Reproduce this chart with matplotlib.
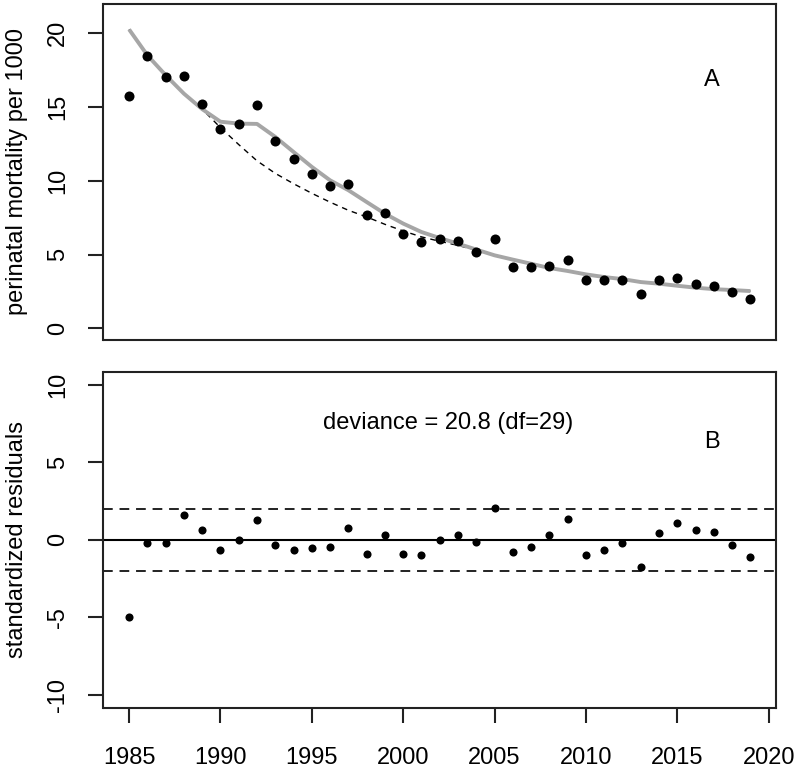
import matplotlib
matplotlib.use("Agg")
import matplotlib.pyplot as plt
import numpy as np

plt.rcParams['font.family'] = ['Liberation Sans', 'DejaVu Sans']

years = list(range(1985, 2020))

# observed perinatal mortality per 1000
observed = [15.75, 18.45, 17.0, 17.1, 15.2, 13.5, 13.85, 15.1, 12.7, 11.45,
            10.45, 9.65, 9.8, 7.65, 7.85, 6.4, 5.85, 6.05, 5.9, 5.15,
            6.05, 4.15, 4.15, 4.25, 4.6, 3.25, 3.25, 3.25, 2.35, 3.25,
            3.4, 3.0, 2.9, 2.45, 2.0]

# fitted model (gray solid)
fitted = [20.25, 18.5, 17.15, 15.9, 14.85, 14.0, 13.87, 13.85, 12.97, 11.95,
          10.94, 10.03, 9.36, 8.56, 7.77, 7.1, 6.53, 6.12, 5.74, 5.34,
          4.95, 4.66, 4.38, 4.09, 3.89, 3.66, 3.48, 3.34, 3.14, 3.03,
          2.89, 2.76, 2.66, 2.6, 2.53]

# baseline trend without excess (black dashed)
trend = [20.25, 18.5, 17.15, 15.9, 14.85, 13.6, 12.45, 11.35, 10.5, 9.8,
         9.15, 8.55, 8.0, 7.55, 7.05, 6.6, 6.2, 5.9, 5.62, 5.3,
         4.95, 4.66, 4.38, 4.09, 3.89, 3.66, 3.48, 3.34, 3.14, 3.03,
         2.89, 2.76, 2.66, 2.6, 2.53]

# standardized residuals
residuals = [-4.95, -0.24, -0.24, 1.62, 0.63, -0.67, 0.0, 1.28, -0.35, -0.67,
             -0.56, -0.45, 0.74, -0.89, 0.3, -0.89, -0.97, 0.0, 0.32, -0.13,
             2.03, -0.78, -0.45, 0.32, 1.36, -1.0, -0.67, -0.24, -1.78, 0.41,
             1.06, 0.63, 0.52, -0.35, -1.1]

xticks = [1985, 1990, 1995, 2000, 2005, 2010, 2015, 2020]
yticks_top = [0, 5, 10, 15, 20]
yticks_bot = [-10, -5, 0, 5, 10]

W, H = 800, 772
fig = plt.figure(figsize=(W / 100, H / 100), dpi=100)

def frac(l, t, r, b):
    return [l / W, 1 - b / H, (r - l) / W, (b - t) / H]

ax1 = fig.add_axes(frac(103.5, 4, 776, 339.5))
ax2 = fig.add_axes(frac(103.5, 371.5, 776, 708))

FS = 17
for ax in (ax1, ax2):
    ax.set_xlim(1983.6, 2020.4)
    for s in ax.spines.values():
        s.set_linewidth(1.5)
        s.set_color('#222222')
    ax.tick_params(length=11, width=1.5, labelsize=FS, color='#222222', pad=14)
    ax.set_xticks(xticks)

ax1.set_ylim(-0.75, 21.97)
ax1.set_yticks(yticks_top)
ax1.set_yticklabels([str(v) for v in yticks_top], rotation=90, va='center')
ax1.tick_params(axis='x', bottom=False, labelbottom=False)

ax1.plot(years, trend, color='black', lw=1.0, ls=(0, (4, 3.5)), zorder=2)
ax1.plot(years, fitted, color='#a6a6a6', lw=2.8, zorder=3, solid_capstyle='butt')
ax1.scatter(years, observed, s=52, color='black', zorder=4, linewidths=0)
ax1.text(2016.9, 16.8, 'A', fontsize=FS, ha='center', va='center')
ax1.set_ylabel('perinatal mortality per 1000', fontsize=FS)

ax2.set_ylim(-10.85, 10.85)
ax2.set_yticks(yticks_bot)
ax2.set_yticklabels([str(v) for v in yticks_bot], rotation=90, va='center')
ax2.set_xticklabels([str(v) for v in xticks])
ax2.tick_params(axis='x', pad=17)
ax2.axhline(0, color='black', lw=1.5, zorder=1)
ax2.axhline(2, color='#222222', lw=1.4, ls=(0, (5, 3.5)), zorder=1)
ax2.axhline(-2, color='#222222', lw=1.4, ls=(0, (5, 3.5)), zorder=1)
ax2.scatter(years, residuals, s=34, color='black', zorder=4, linewidths=0)
ax2.text(2002.45, 7.55, 'deviance = 20.8 (df=29)', fontsize=FS, ha='center', va='center')
ax2.text(2016.9, 6.3, 'B', fontsize=FS, ha='center', va='center')
ax2.set_ylabel('standardized residuals', fontsize=FS)

for ax in (ax1, ax2):
    ax.yaxis.set_label_coords(-0.112, 0.5)

fig.savefig('out.png', dpi=100)
